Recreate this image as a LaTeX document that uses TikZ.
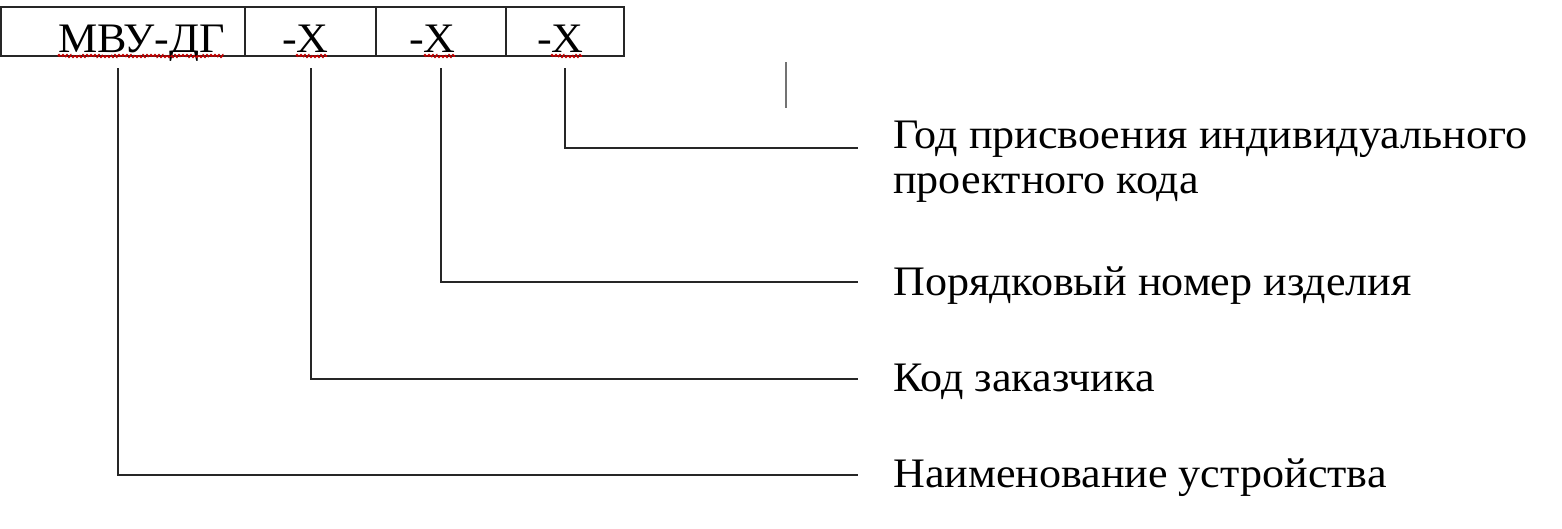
\documentclass[tikz,border=0pt]{standalone}
\usepackage{fontspec}
\setmainfont[FakeStretch=1.05]{Liberation Serif}
\usetikzlibrary{decorations.pathmorphing}
\begin{document}
\begin{tikzpicture}[x=1pt,y=-1pt,
  cellbox/.style={draw=black!85, line width=1.7pt, minimum height=49pt, inner sep=0pt, anchor=north west},
  celltext/.style={inner sep=0pt, anchor=base west, font=\fontsize{42}{45}\selectfont},
  lab/.style={inner sep=0pt, anchor=base west, align=left, font=\fontsize{42}{45}\selectfont},
  lead/.style={draw=black!85, line width=2pt},
  spell/.style={draw=red!75!black, line width=1.8pt, dash pattern=on 3.5pt off 1.5pt,
    decorate, decoration={zigzag, segment length=4pt, amplitude=1pt}},
]
\useasboundingbox (0,0) rectangle (1562,528);
% table cells
\node[cellbox, minimum width=244pt] (c1) at (0,6) {};
\node[cellbox, minimum width=131pt] (c2) at (244,6) {};
\node[cellbox, minimum width=130pt] (c3) at (375,6) {};
\node[cellbox, minimum width=118pt] (c4) at (505,6) {};
% texts in cells
\node[celltext] (t1) at (58,52) {МВУ-ДГ};
\node[celltext] (t2) at (282,52) {-X};
\node[celltext] (t3) at (409,52) {-X};
\node[celltext] (t4) at (537,52) {-X};
% spell-check marks
\draw[spell] (58,56) -- (224,56);
\draw[spell] (296,56) -- (327,56);
\draw[spell] (424,56) -- (455,56);
\draw[spell] (551,56) -- (582,56);
% labels
\node[lab] (l4) at (893,193) {Год присвоения индивидуального\\проектного кода};
\node[lab] (l3) at (893,295) {Порядковый номер изделия};
\node[lab] (l2) at (893,391) {Код заказчика};
\node[lab] (l1) at (893,487) {Наименование устройства};
% leader start points
\coordinate (s1) at (118,68);
\coordinate (s2) at (311,68);
\coordinate (s3) at (441,68);
\coordinate (s4) at (565,68);
\coordinate (e1) at (858,475);
\coordinate (e2) at (858,379);
\coordinate (e3) at (858,282);
\coordinate (e4) at (858,148);
\draw[lead] (s1) |- (e1);
\draw[lead] (s2) |- (e2);
\draw[lead] (s3) |- (e3);
\draw[lead] (s4) |- (e4);
% stray mark
\coordinate (m1) at (786,62);
\coordinate (m2) at (786,108);
\draw[draw=black!55, line width=1.2pt] (m1) -- (m2);
\end{tikzpicture}
\end{document}
